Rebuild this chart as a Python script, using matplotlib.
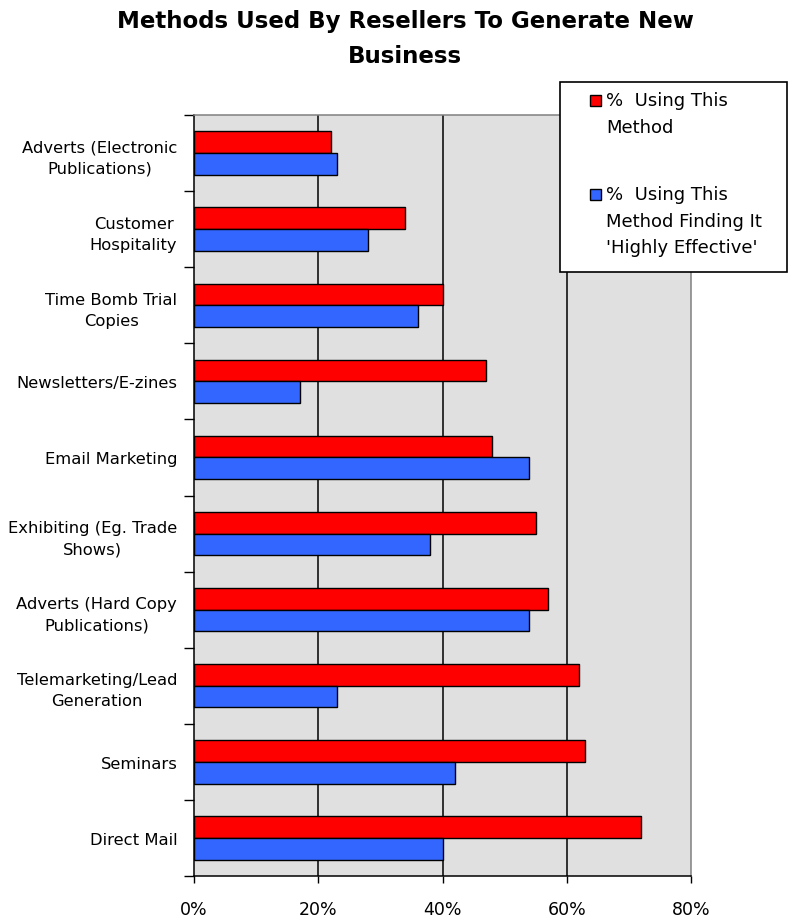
import matplotlib
matplotlib.use('Agg')
import matplotlib.pyplot as plt
import matplotlib.patches as mpatches
import numpy as np

# ── data (top to bottom) ───────────────────────────────────────────────────────
categories = [
    "Adverts (Electronic\nPublications)",
    "Customer\nHospitality",
    "Time Bomb Trial\nCopies",
    "Newsletters/E-zines",
    "Email Marketing",
    "Exhibiting (Eg. Trade\nShows)",
    "Adverts (Hard Copy\nPublications)",
    "Telemarketing/Lead\nGeneration",
    "Seminars",
    "Direct Mail",
]
using_method = [22, 34, 40, 47, 48, 55, 57, 62, 63, 72]
highly_effective = [23, 28, 36, 17, 54, 38, 54, 23, 42, 40]
series_names = ["%  Using This\nMethod",
                "%  Using This\nMethod Finding It\n'Highly Effective'"]
x_ticks = [0, 20, 40, 60, 80]

# ── style ──────────────────────────────────────────────────────────────────────
RED = '#FF0000'
BLUE = '#3366FF'
PLOT_BG = '#E0E0E0'
plt.rcParams['font.family'] = ['DejaVu Sans']

fig = plt.figure(figsize=(7.88, 9.2), dpi=100)
fig.patch.set_facecolor('white')
ax = fig.add_axes([194 / 788, 43 / 920, 497 / 788, 761 / 920])
ax.set_facecolor(PLOT_BG)

y = np.arange(len(categories))
h = 0.285
ax.barh(y - h / 2, using_method, height=h, color=RED, edgecolor='black',
        linewidth=1, zorder=3)
ax.barh(y + h / 2, highly_effective, height=h, color=BLUE, edgecolor='black',
        linewidth=1, zorder=3)

for xv in x_ticks[1:-1]:
    ax.axvline(xv, color='black', linewidth=1.1, zorder=1)

ax.set_xlim(0, 80)
ax.set_ylim(len(categories) - 0.5, -0.5)

# y ticks at category boundaries, labels at centers
ax.set_yticks(np.arange(len(categories) + 1) - 0.5)
ax.set_yticklabels([])
ax.set_yticks(y, minor=True)
ax.set_yticklabels(categories, minor=True, fontsize=11.8, ha='right',
                   multialignment='center', linespacing=1.5)
ax.tick_params(axis='y', which='major', direction='out', length=7, width=1)
ax.tick_params(axis='y', which='minor', length=0, pad=12)

ax.set_xticks(x_ticks)
ax.set_xticklabels([f"{v}%" for v in x_ticks], fontsize=12.5)
ax.tick_params(axis='x', direction='out', length=5, width=1, pad=12)

for side in ['left', 'bottom']:
    ax.spines[side].set_color('black')
    ax.spines[side].set_linewidth(1.1)
for side in ['top', 'right']:
    ax.spines[side].set_color('#808080')
    ax.spines[side].set_linewidth(1.1)

# ── title ──────────────────────────────────────────────────────────────────────
fig.text(405 / 788, 1 - 10 / 920,
         "Methods Used By Resellers To Generate New\nBusiness",
         ha='center', va='top', fontsize=16.5, fontweight='bold',
         linespacing=1.65)

# ── legend box ─────────────────────────────────────────────────────────────────
box = mpatches.Rectangle((560 / 788, 1 - 273 / 920), 227 / 788, 190 / 920,
                         transform=fig.transFigure, facecolor='white',
                         edgecolor='black', linewidth=1.2, zorder=5)
fig.patches.append(box)

leg_colors = [RED, BLUE]
marker_y = [101, 195]
text_top = [92, 186]
for name, col, my, ty in zip(series_names, leg_colors, marker_y, text_top):
    sq = mpatches.Rectangle((590 / 788, 1 - (my + 5.5) / 920), 11 / 788, 11 / 920,
                            transform=fig.transFigure, facecolor=col,
                            edgecolor='black', linewidth=1, zorder=6)
    fig.patches.append(sq)
    fig.text(606 / 788, 1 - ty / 920, name, ha='left', va='top',
             fontsize=13, linespacing=1.62, zorder=7)

fig.savefig('out.png', dpi=100, facecolor='white')
plt.close()
